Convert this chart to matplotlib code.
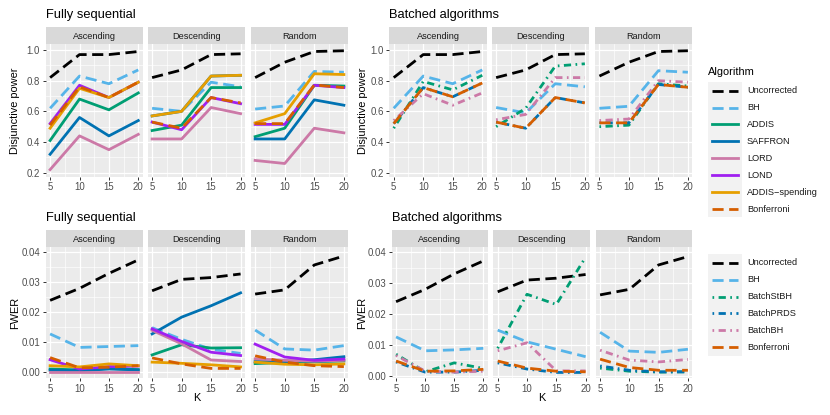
import matplotlib.pyplot as plt
from matplotlib.patches import Rectangle
from matplotlib.ticker import FixedLocator

plt.rcParams['font.family'] = ['Liberation Sans', 'DejaVu Sans']

K = [5, 10, 15, 20]
orders = ["Ascending", "Descending", "Random"]

# each algorithm: one list per ordering (Ascending, Descending, Random)
seq_power = {
    "Uncorrected": [[0.82, 0.97, 0.97, 0.99], [0.82, 0.87, 0.97, 0.975], [0.82, 0.92, 0.99, 0.995]],
    "BH": [[0.62, 0.83, 0.78, 0.87], [0.62, 0.60, 0.79, 0.76], [0.615, 0.635, 0.86, 0.855]],
    "ADDIS": [[0.41, 0.68, 0.61, 0.72], [0.475, 0.51, 0.755, 0.755], [0.435, 0.49, 0.77, 0.765]],
    "SAFFRON": [[0.32, 0.56, 0.44, 0.54], [0.57, 0.60, 0.83, 0.835], [0.42, 0.42, 0.675, 0.64]],
    "LORD": [[0.22, 0.44, 0.35, 0.45], [0.42, 0.42, 0.625, 0.585], [0.28, 0.26, 0.49, 0.46]],
    "LOND": [[0.52, 0.77, 0.69, 0.79], [0.53, 0.48, 0.69, 0.65], [0.515, 0.515, 0.77, 0.755]],
    "ADDIS−spending": [[0.49, 0.75, 0.69, 0.79], [0.57, 0.60, 0.83, 0.835], [0.525, 0.585, 0.845, 0.84]],
    "Bonferroni": [[0.51, 0.76, 0.69, 0.79], [0.53, 0.49, 0.69, 0.655], [0.52, 0.52, 0.772, 0.755]],
}

batch_power = {
    "Uncorrected": [[0.82, 0.97, 0.97, 0.99], [0.82, 0.87, 0.97, 0.975], [0.83, 0.92, 0.99, 0.995]],
    "BH": [[0.62, 0.83, 0.78, 0.87], [0.625, 0.59, 0.78, 0.76], [0.62, 0.633, 0.865, 0.855]],
    "BatchStBH": [[0.49, 0.795, 0.74, 0.835], [0.50, 0.62, 0.895, 0.91], [0.50, 0.51, 0.78, 0.765]],
    "BatchPRDS": [[0.52, 0.755, 0.695, 0.785], [0.53, 0.49, 0.69, 0.655], [0.525, 0.525, 0.775, 0.757]],
    "BatchBH": [[0.54, 0.715, 0.64, 0.72], [0.545, 0.58, 0.82, 0.82], [0.54, 0.55, 0.80, 0.79]],
    "Bonferroni": [[0.52, 0.755, 0.695, 0.785], [0.53, 0.49, 0.69, 0.655], [0.525, 0.525, 0.775, 0.757]],
}

seq_fwer = {
    "Uncorrected": [[0.024, 0.028, 0.033, 0.0375], [0.0272, 0.031, 0.0316, 0.0328], [0.0261, 0.0275, 0.0358, 0.0388]],
    "BH": [[0.0128, 0.0083, 0.0086, 0.0089], [0.0149, 0.011, 0.0077, 0.0063], [0.0141, 0.0078, 0.0074, 0.0089]],
    "ADDIS": [[0.0011, 0.0008, 0.0013, 0.0009], [0.0058, 0.0092, 0.0081, 0.0082], [0.0029, 0.0033, 0.0035, 0.0038]],
    "SAFFRON": [[0.0007, 0.0005, 0.0011, 0.0008], [0.0128, 0.0184, 0.0222, 0.0265], [0.0036, 0.0035, 0.0042, 0.0052]],
    "LORD": [[0.0002, 0.0002, 0.0002, 0.0002], [0.014, 0.0095, 0.0041, 0.0036], [0.0045, 0.004, 0.0037, 0.004]],
    "LOND": [[0.0042, 0.0011, 0.0019, 0.0021], [0.0145, 0.0103, 0.0067, 0.0056], [0.0094, 0.0051, 0.004, 0.0044]],
    "ADDIS−spending": [[0.0022, 0.0018, 0.0028, 0.0022], [0.0034, 0.003, 0.0025, 0.0018], [0.0034, 0.0027, 0.0025, 0.0028]],
    "Bonferroni": [[0.0049, 0.0015, 0.0017, 0.0022], [0.0048, 0.0028, 0.0013, 0.0013], [0.0055, 0.0034, 0.0022, 0.0019]],
}

batch_fwer = {
    "Uncorrected": [[0.024, 0.028, 0.033, 0.0372], [0.0272, 0.031, 0.0316, 0.0328], [0.0262, 0.028, 0.0359, 0.0386]],
    "BH": [[0.0126, 0.0081, 0.0084, 0.0089], [0.0148, 0.011, 0.0086, 0.0062], [0.0141, 0.008, 0.0076, 0.0086]],
    "BatchStBH": [[0.007, 0.0013, 0.0042, 0.0024], [0.0089, 0.0264, 0.0231, 0.0384], [0.0025, 0.0015, 0.0012, 0.0013]],
    "BatchPRDS": [[0.0045, 0.0012, 0.0012, 0.0018], [0.0042, 0.0022, 0.0011, 0.0011], [0.0032, 0.0018, 0.0013, 0.0013]],
    "BatchBH": [[0.0066, 0.0015, 0.0012, 0.0015], [0.0081, 0.0107, 0.0016, 0.0016], [0.0083, 0.0051, 0.0045, 0.0053]],
    "Bonferroni": [[0.0048, 0.0015, 0.0016, 0.0021], [0.0048, 0.0025, 0.0015, 0.0013], [0.0054, 0.0027, 0.0018, 0.0018]],
}

DASH = (4, 2)
DOTDASH = (0.6, 1.6, 2.6, 1.6)
styles = {
    "Uncorrected": ("black", DASH),
    "BH": ("#56B4E9", DASH),
    "ADDIS": ("#009E73", None),
    "SAFFRON": ("#0072B2", None),
    "LORD": ("#CC79A7", None),
    "LOND": ("#A020F0", None),
    "ADDIS−spending": ("#E69F00", None),
    "Bonferroni": ("#D55E00", DASH),
    "BatchStBH": ("#009E73", DOTDASH),
    "BatchPRDS": ("#0072B2", DOTDASH),
    "BatchBH": ("#CC79A7", DOTDASH),
}

W, H = 830, 415
fig = plt.figure(figsize=(W / 100, H / 100), dpi=100)
LW = 2.0


def px_axes(x0, y0, x1, y1, **kw):
    return fig.add_axes([x0 / W, 1 - y1 / H, (x1 - x0) / W, (y1 - y0) / H], **kw)


def facet_plot(data, xs, ytop, ybot, ylim, yticks, ylabels, ylabel_x, ylabel, title, xlabel=None):
    for i, (x0, x1) in enumerate(xs):
        strip = px_axes(x0, ytop, x1, ytop + 16.7)
        strip.set_facecolor('#D9D9D9')
        strip.set_xticks([])
        strip.set_yticks([])
        for s in strip.spines.values():
            s.set_visible(False)
        strip.text(0.5, 0.47, orders[i], ha='center', va='center', fontsize=6.6,
                   color='#1A1A1A', transform=strip.transAxes)

        ax = px_axes(x0, ytop + 16.7, x1, ybot)
        ax.set_facecolor('#EBEBEB')
        for s in ax.spines.values():
            s.set_visible(False)
        ax.set_xlim(4.25, 20.75)
        ax.set_ylim(*ylim)
        ax.set_xticks(K)
        ax.set_xticklabels([str(k) for k in K])
        ax.xaxis.set_minor_locator(FixedLocator([7.5, 12.5, 17.5]))
        ax.set_yticks(yticks)
        ax.yaxis.set_minor_locator(FixedLocator([(a + b) / 2 for a, b in zip(yticks[:-1], yticks[1:])]))
        ax.grid(which='major', color='white', lw=0.9)
        ax.grid(which='minor', color='white', lw=0.45)
        ax.set_axisbelow(True)
        ax.tick_params(which='minor', length=0)
        ax.tick_params(which='major', length=2.5, width=0.7, color='#333333',
                       labelsize=6.9, labelcolor='#4D4D4D', pad=1.5)
        if i == 0:
            ax.set_yticklabels(ylabels)
        else:
            ax.tick_params(axis='y', length=0, labelleft=False)
        for name, vals in data.items():
            color, dash = styles[name]
            line, = ax.plot(K, vals[i], color=color, lw=LW, solid_joinstyle='round')
            if dash is not None:
                line.set_dashes(dash)

    ymid = (ytop + 16.7 + ybot) / 2
    fig.text(ylabel_x / W, 1 - ymid / H, ylabel, rotation=90, ha='center', va='center', fontsize=7.9)
    fig.text(xs[0][0] / W, 1 - (ytop - 9) / H, title, ha='left', va='baseline', fontsize=9.3)
    if xlabel:
        xmid = (xs[0][0] + xs[-1][1]) / 2
        fig.text(xmid / W, 1 - (ybot + 20) / H, xlabel, ha='center', va='center', fontsize=7.9)


power_ticks = [0.2, 0.4, 0.6, 0.8, 1.0]
power_labels = ["0.2", "0.4", "0.6", "0.8", "1.0"]
fwer_ticks = [0.0, 0.01, 0.02, 0.03, 0.04]
fwer_labels = ["0.00", "0.01", "0.02", "0.03", "0.04"]

facet_plot(seq_power, [(45.7, 142.7), (147.7, 245), (250.7, 348.3)], 27.3, 176.7,
           (0.174, 1.039), power_ticks, power_labels, 15, "Disjunctive power", "Fully sequential")
facet_plot(batch_power, [(389.3, 486.7), (491.7, 589.3), (595, 692.3)], 27.3, 176.7,
           (0.174, 1.039), power_ticks, power_labels, 363.5, "Disjunctive power", "Batched algorithms")
facet_plot(seq_fwer, [(45.7, 142.7), (147.7, 245), (250.7, 348.3)], 230.3, 378,
           (-0.0019, 0.0418), fwer_ticks, fwer_labels, 15, "FWER", "Fully sequential", "K")
facet_plot(batch_fwer, [(391.7, 487.7), (493.3, 590), (595.7, 692.3)], 230.3, 378,
           (-0.0007, 0.0417), fwer_ticks, fwer_labels, 362, "FWER", "Batched algorithms", "K")

# legends drawn in pixel space
lg = px_axes(0, 0, W, H)
lg.set_xlim(0, W)
lg.set_ylim(H, 0)
lg.axis('off')
lg.patch.set_alpha(0)


def draw_legend(names, y_first, title=None):
    step = 16.9
    if title:
        lg.text(707.5, y_first - 18.5, title, ha='left', va='center', fontsize=7.9)
    lg.add_patch(Rectangle((707.5, y_first - step / 2), 34.5, step * len(names),
                           facecolor='#F2F2F2', edgecolor='none'))
    for j, name in enumerate(names):
        y = y_first + j * step
        color, dash = styles[name]
        line, = lg.plot([711.5, 737.5], [y, y], color=color, lw=LW)
        if dash is not None:
            line.set_dashes(dash)
        lg.text(747, y, name, ha='left', va='center', fontsize=6.6, color='#1A1A1A')


draw_legend(list(seq_power.keys()), 90.7, "Algorithm")
draw_legend(list(batch_fwer.keys()), 262.7)

fig.savefig("out.png", dpi=100)
